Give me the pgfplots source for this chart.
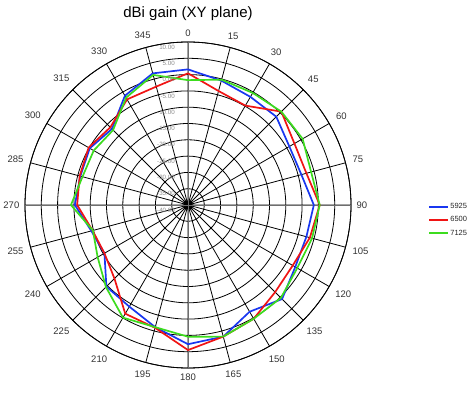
\documentclass[border=0pt]{standalone}
\usepackage{pgfplots}
\pgfplotsset{compat=1.18}
\usepgfplotslibrary{polar}
\usepackage{fontspec}
\setmainfont{Liberation Sans}
\definecolor{cblue}{RGB}{25,55,240}
\definecolor{cred}{RGB}{240,20,20}
\definecolor{cgreen}{RGB}{60,220,30}
\definecolor{axgray}{RGB}{110,110,110}
\definecolor{lblgray}{RGB}{140,140,140}
\begin{document}
\begin{tikzpicture}
\path[use as bounding box] (0,0) rectangle (471pt,393pt);
\node[font=\fontsize{15}{18}\selectfont] at (188pt,379pt) {dBi gain (XY plane)};
\begin{polaraxis}[
  at={(188pt,188pt)}, anchor=center,
  scale only axis, width=326pt, height=326pt,
  xmin=0, xmax=360, ymin=0, ymax=50,
  xtick={0,15,...,345},
  xticklabels={90,75,60,45,30,15,0,345,330,315,300,285,270,255,240,225,210,195,180,165,150,135,120,105},
  ytick={0,5,...,50}, yticklabels={},
  tick style={draw=none},
  grid=major,
  major grid style={black, line width=0.8pt},
  axis line style={black, line width=0.8pt},
  xticklabel style={font=\fontsize{9.5}{11}\selectfont, text=black!80, inner sep=5.5pt},
  extra x ticks={0,90,180,270},
  extra x tick labels={},
  extra x tick style={grid=major, major grid style={axgray, line width=0.8pt}},
  x filter/.expression={mod(450-x,360)},
  y filter/.expression={y+40},
  every axis plot/.append style={line width=1.7pt, line join=round, no marks},
  legend style={draw=none, fill=none, inner sep=0pt, at={(1,0.5)}, anchor=west,
    xshift=77pt, yshift=-15pt, font=\fontsize{7.5}{9}\selectfont,
    row sep=3.5pt, nodes={inner sep=1.5pt, text=black!85}},
  legend cell align=left,
  legend image code/.code={\draw[#1] (0pt,0pt) -- (19pt,0pt);},
]
\addplot[cblue] coordinates {(0,1.6)(15,-0.5)(30,-1.7)(45,-1.7)(60,-4.1)(75,-4.0)(90,-1.4)(105,-2.4)(120,-2.0)(135,0.8)(150,-2.2)(165,1.8)(180,2.7)(195,-1.2)(210,-4.0)(225,-4.6)(240,-10.4)(255,-9.3)(270,-5.3)(285,-5.8)(300,-5.2)(315,-7.0)(330,-1.3)(345,1.8)(360,1.6)};
\addlegendentry{5925}
\addplot[cred] coordinates {(0,0.4)(15,-3.8)(30,-4.8)(45,0.5)(60,-2.3)(75,-2.4)(90,0.4)(105,-1.3)(120,-2.9)(135,-2.2)(150,0.3)(165,1.8)(180,4.5)(195,-1.0)(210,-1.5)(225,-8.1)(240,-10.4)(255,-9.7)(270,-6.0)(285,-5.6)(300,-4.8)(315,-6.3)(330,-2.6)(345,-2.4)(360,0.4)};
\addlegendentry{6500}
\addplot[cgreen] coordinates {(0,-1.7)(15,-0.2)(30,-0.3)(45,0.5)(60,0.6)(75,-0.9)(90,0.4)(105,-0.6)(120,-1.3)(135,0.3)(150,0.3)(165,1.8)(180,0.4)(195,-1.2)(210,-0.1)(225,-4.4)(240,-8.0)(255,-9.8)(270,-4.1)(285,-6.5)(300,-6.6)(315,-7.5)(330,-2.0)(345,1.3)(360,-1.7)};
\addlegendentry{7125}
\foreach \r/\t in {50/10.00,45/5.00,40/0.00,35/-5.00,30/-10.00,25/-15.00,20/-20.00,15/-25.00,10/-30.00,5/-35.00,0/-40.00}{
  \edef\tmp{\noexpand\node[anchor=east, inner sep=0pt, xshift=-13pt, yshift=-5pt, text=lblgray, font=\noexpand\fontsize{6.2}{7}\noexpand\selectfont] at (axis cs:90,\r) {\t};}
  \tmp
}
\end{polaraxis}
\end{tikzpicture}
\end{document}
